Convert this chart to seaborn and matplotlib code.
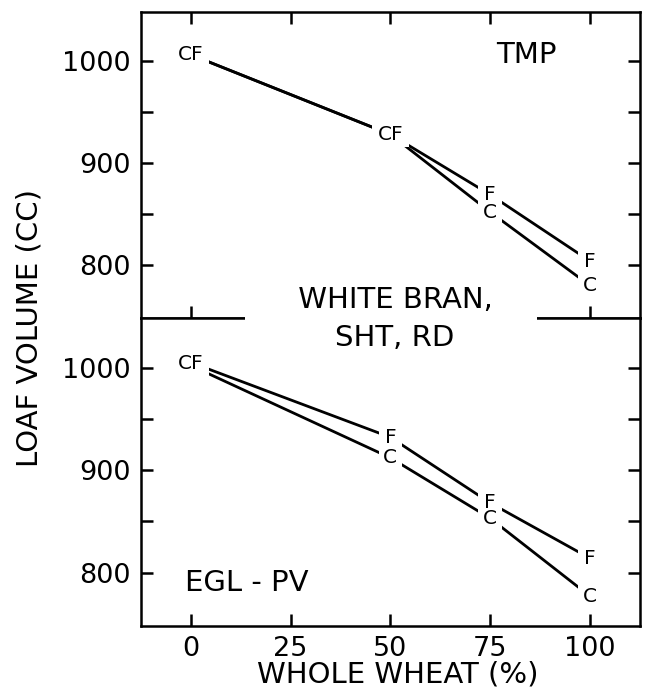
import pandas as pd
import seaborn as sns
import matplotlib.pyplot as plt

# whole wheat percentage and loaf volumes (cc)
pct = [0, 50, 75, 100]
tmp_c = [1006, 928, 852, 780]
tmp_f = [1006, 928, 869, 804]
egl_c = [1002, 912, 853, 777]
egl_f = [1005, 932, 868, 814]

x_ticks = [0, 25, 50, 75, 100]
y_major = [800, 900, 1000]
y_minor = [850, 950]

sns.set_style('ticks', {'axes.edgecolor': 'black', 'xtick.color': 'black',
                        'ytick.color': 'black', 'text.color': 'black',
                        'axes.labelcolor': 'black'})
plt.rcParams['font.family'] = ['DejaVu Sans']

fig = plt.figure(figsize=(6.49, 6.92), dpi=100)
ax_top = fig.add_axes([0.217, 0.540, 0.769, 0.443])
ax_bot = fig.add_axes([0.217, 0.0954, 0.769, 0.4446])

wide_box = [(-1.5, -1), (1.5, -1), (1.5, 1), (-1.5, 1)]


def draw_panel(ax, c_vals, f_vals):
    df = pd.DataFrame({'pct': pct * 2,
                       'vol': c_vals + f_vals,
                       'flour': ['C'] * len(pct) + ['F'] * len(pct)})
    sns.lineplot(data=df, x='pct', y='vol', hue='flour',
                 palette={'C': 'black', 'F': 'black'}, estimator=None,
                 legend=False, lw=2, ax=ax)

    # letter markers: where C and F meet they share one "CF" label
    marks = []
    for x, c, f in zip(pct, c_vals, f_vals):
        if abs(c - f) < 5:
            marks.append((x, (c + f) / 2, 'CF'))
        else:
            marks.append((x, c, 'C'))
            marks.append((x, f, 'F'))
    mk = pd.DataFrame(marks, columns=['pct', 'vol', 'lab'])

    # white patches under the letters so the lines stop short of them
    single = mk[mk['lab'] != 'CF']
    pair = mk[mk['lab'] == 'CF']
    sns.scatterplot(data=single, x='pct', y='vol', marker='s', s=290,
                    color='white', edgecolor='none', zorder=3, ax=ax)
    sns.scatterplot(data=pair, x='pct', y='vol', marker=wide_box, s=720,
                    color='white', edgecolor='none', zorder=3, ax=ax)
    for x, y, s in marks:
        ax.text(x, y, s, ha='center', va='center', fontsize=14.5,
                zorder=6, clip_on=False)

    ax.set_xlim(-12.5, 112.5)
    ax.set_ylim(748, 1048)
    ax.set_xticks(x_ticks)
    ax.set_yticks(y_major)
    ax.set_yticks(y_minor, minor=True)
    ax.set_xlabel('')
    ax.set_ylabel('')
    for sp in ax.spines.values():
        sp.set_visible(True)
        sp.set_linewidth(1.8)
    ax.tick_params(which='both', direction='in', length=8.5, width=1.8,
                   left=True, right=True, labelsize=19.5, pad=7)


draw_panel(ax_top, tmp_c, tmp_f)
draw_panel(ax_bot, egl_c, egl_f)

ax_top.tick_params(axis='x', which='both', top=True, bottom=True, labelbottom=False)
ax_bot.tick_params(axis='x', which='both', top=False, bottom=True, labelbottom=True)

ax_top.text(84, 1006, 'TMP', ha='center', va='center', fontsize=21)
ax_bot.text(14, 790, 'EGL - PV', ha='center', va='center', fontsize=21)

nb = '\u00a0'
fig.text(391 / 649, 1 - 300 / 692, nb * 5 + 'WHITE BRAN,' + nb * 4,
         ha='center', va='center', fontsize=21,
         bbox=dict(boxstyle='square,pad=0.25', fc='white', ec='none'))
fig.text(395 / 649, 1 - 338 / 692, 'SHT, RD', ha='center', va='center', fontsize=21)

fig.text(30 / 649, 1 - 328 / 692, 'LOAF VOLUME (CC)', rotation=90,
         ha='center', va='center', fontsize=21)
fig.text(398 / 649, 1 - 675 / 692, 'WHOLE WHEAT (%)', ha='center', va='center',
         fontsize=21)

fig.savefig('out.png', dpi=100)
